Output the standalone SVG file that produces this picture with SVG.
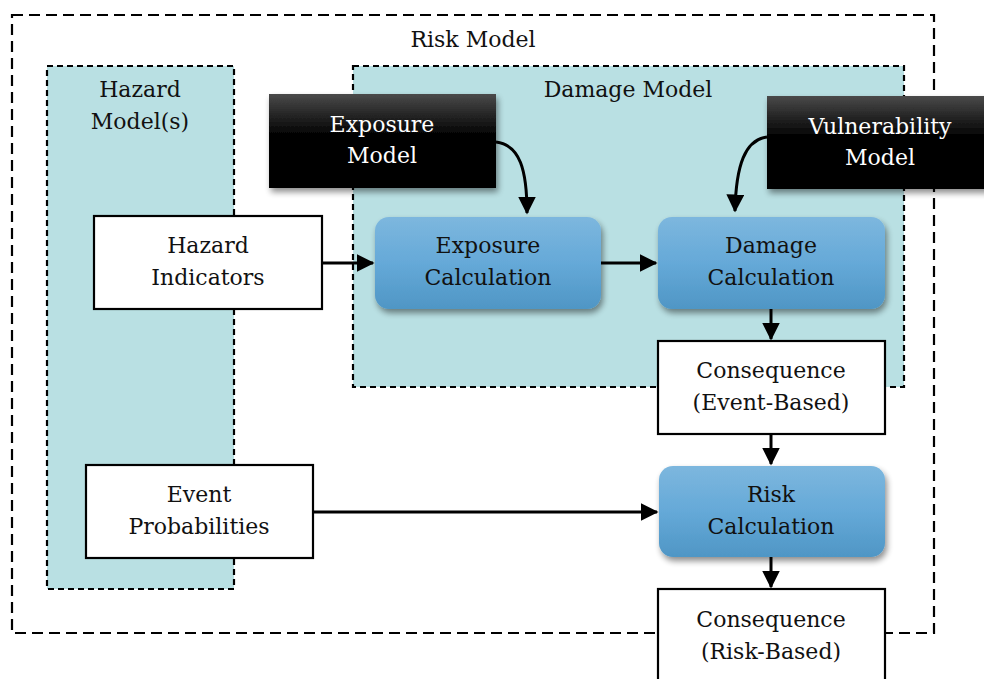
<svg xmlns="http://www.w3.org/2000/svg" width="984" height="679" viewBox="0 0 984 679">
<defs>
<linearGradient id="blk" x1="0" y1="0" x2="0" y2="1">
<stop offset="0" stop-color="#4a4a4a"/>
<stop offset="0.45" stop-color="#000"/>
<stop offset="1" stop-color="#000"/>
</linearGradient>
<linearGradient id="blu" x1="0" y1="0" x2="0" y2="1">
<stop offset="0" stop-color="#7db7de"/>
<stop offset="0.5" stop-color="#65a9d8"/>
<stop offset="1" stop-color="#4f96c5"/>
</linearGradient>
<filter id="sh" x="-10%" y="-10%" width="125%" height="130%">
<feGaussianBlur in="SourceAlpha" stdDeviation="3"/>
<feOffset dx="2" dy="4"/>
<feComponentTransfer><feFuncA type="linear" slope="0.45"/></feComponentTransfer>
<feMerge><feMergeNode/><feMergeNode in="SourceGraphic"/></feMerge>
</filter>
<marker id="arr" viewBox="0 0 12 12" refX="11" refY="6" markerWidth="18" markerHeight="18" markerUnits="userSpaceOnUse" orient="auto">
<path d="M0,0 L12,6 L0,12 Z" fill="#000"/>
</marker>
</defs>
<style>
text{font-family:"DejaVu Serif","Liberation Serif",serif;font-size:22px;text-anchor:middle;fill:#111}
.w{fill:#fff}
.dash{fill:none;stroke:#000;stroke-width:2.2;stroke-dasharray:11,6}
.zone{fill:#b9e0e3;stroke:#000;stroke-width:2.2;stroke-dasharray:6,4}
.box{fill:#fff;stroke:#000;stroke-width:2.2}
.calc{fill:url(#blu);filter:url(#sh)}
.blk{fill:url(#blk);filter:url(#sh)}
.con{fill:none;stroke:#000;stroke-width:3;marker-end:url(#arr)}
</style>
<g id="risk-model">
<rect class="dash" x="12" y="15" width="922" height="618"/>
<text x="473" y="47">Risk Model</text>
</g>
<g id="hazard-models">
<rect class="zone" x="47" y="66" width="187" height="523"/>
<text x="140" y="97">Hazard</text>
<text x="140" y="129">Model(s)</text>
</g>
<g id="damage-model">
<rect class="zone" x="353" y="66" width="551" height="321"/>
<text x="628" y="97">Damage Model</text>
</g>
<g id="connectors">
<path class="con" d="M322,263 L373,263"/>
<path class="con" d="M601,263 L656,263"/>
<path class="con" d="M771,309 L771,339"/>
<path class="con" d="M771,434 L771,464"/>
<path class="con" d="M313,512 L657,512"/>
<path class="con" d="M771,557 L771,587"/>
<path class="con" d="M496,142 C520,145 527,170 527,213"/>
<path class="con" d="M767,137 C745,140 736,165 735,211"/>
</g>
<g id="exposure-model">
<rect class="blk" x="269" y="94" width="227" height="94"/>
<text class="w" x="382" y="132">Exposure</text>
<text class="w" x="382" y="163">Model</text>
</g>
<g id="vulnerability-model">
<rect class="blk" x="767" y="96" width="230" height="93"/>
<text class="w" x="880" y="134">Vulnerability</text>
<text class="w" x="880" y="165">Model</text>
</g>
<g id="hazard-indicators">
<rect class="box" x="94" y="216" width="228" height="93"/>
<text x="208" y="253">Hazard</text>
<text x="208" y="285">Indicators</text>
</g>
<g id="exposure-calculation">
<rect class="calc" x="375" y="217" width="226" height="92" rx="14"/>
<text x="488" y="253">Exposure</text>
<text x="488" y="285">Calculation</text>
</g>
<g id="damage-calculation">
<rect class="calc" x="658" y="217" width="227" height="92" rx="14"/>
<text x="771" y="253">Damage</text>
<text x="771" y="285">Calculation</text>
</g>
<g id="consequence-event">
<rect class="box" x="658" y="341" width="227" height="93"/>
<text x="771" y="378">Consequence</text>
<text x="771" y="410">(Event-Based)</text>
</g>
<g id="event-probabilities">
<rect class="box" x="86" y="465" width="227" height="93"/>
<text x="199" y="502">Event</text>
<text x="199" y="534">Probabilities</text>
</g>
<g id="risk-calculation">
<rect class="calc" x="659" y="466" width="226" height="91" rx="14"/>
<text x="771" y="502">Risk</text>
<text x="771" y="534">Calculation</text>
</g>
<g id="consequence-risk">
<rect class="box" x="658" y="589" width="227" height="100"/>
<text x="771" y="627">Consequence</text>
<text x="771" y="659">(Risk-Based)</text>
</g>
</svg>
